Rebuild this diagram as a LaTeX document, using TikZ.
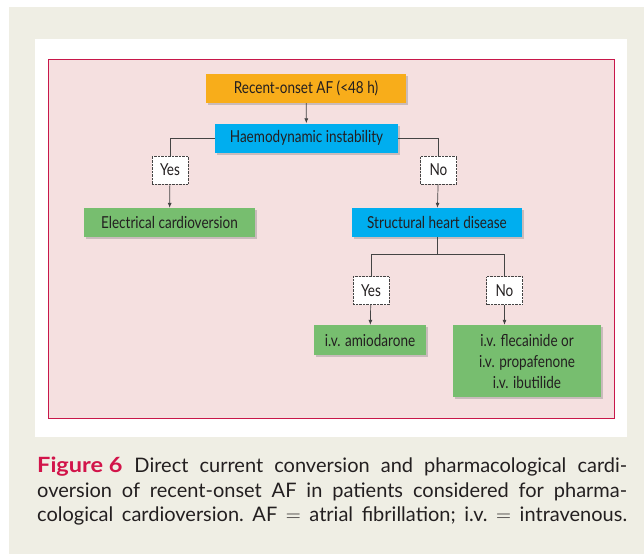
\documentclass[tikz,border=0pt]{standalone}
\usepackage{fontspec}
\setmainfont{Lato}
\newfontfamily\boitefont[FakeStretch=0.82]{Lato}
\usetikzlibrary{arrows.meta,shadows}

\definecolor{fond}{HTML}{EFEEE4}
\definecolor{rose}{HTML}{F5E0E0}
\definecolor{bordrose}{HTML}{C8174A}
\definecolor{figrouge}{HTML}{D2144A}
\definecolor{jaune}{HTML}{F8AD1A}
\definecolor{bleu}{HTML}{00AEEF}
\definecolor{vert}{HTML}{77BE6F}
\definecolor{texte}{HTML}{231F20}
\definecolor{trait}{HTML}{444444}

\tikzset{
	boite/.style={minimum height=29pt, inner sep=2pt, text=texte,
		font=\boitefont\fontsize{16.5}{21}\selectfont,
		drop shadow={shadow xshift=2pt, shadow yshift=-2pt, opacity=.3, fill=black!60}},
	boitejaune/.style={boite, fill=jaune},
	boitebleue/.style={boite, fill=bleu},
	boiteverte/.style={boite, fill=vert},
	choix/.style={draw=trait, densely dotted, fill=white, minimum width=36pt,
		minimum height=28pt, inner sep=2pt, text=texte,
		font=\boitefont\fontsize{16.5}{18}\selectfont},
	lien/.style={draw=trait, line width=0.7pt},
	fleche/.style={lien, -{Latex[length=5pt,width=4pt]}}
}

\begin{document}
\begin{tikzpicture}[x=1pt,y=-1pt]

\useasboundingbox (0,0) rectangle (644,554);

% cadres
\fill[fond] (9,7) rectangle (644,554);
\fill[white] (35,39) rectangle (627,437);
\filldraw[fill=rose, draw=bordrose, line width=0.8pt] (48,59) rectangle (614,418);

% boites
\node[boitejaune, minimum width=200pt] (debut) at (306,88.5) {Recent-onset AF (<48 h)};
\node[boitebleue, minimum width=183pt] (instab) at (306.5,138) {Haemodynamic instability};
\node[choix] (oui1) at (170,170) {Yes};
\node[choix] (non1) at (438.5,170) {No};
\node[boiteverte, minimum width=171pt] (choc) at (169.5,222.5) {Electrical cardioversion};
\node[boitebleue, minimum width=170pt] (cardio) at (437,222.5) {Structural heart disease};
\node[choix] (oui2) at (371,290.5) {Yes};
\node[choix] (non2) at (504.5,290.5) {No};
\node[boiteverte, minimum width=112pt, minimum height=30pt] (amio) at (370,340) {i.v. amiodarone};
\node[boiteverte, minimum width=148pt, minimum height=72pt, align=center] (flec) at (527,361)
	{i.v. flecainide or\\i.v. propafenone\\i.v. ibutilide};

\coordinate (jonction) at (437,254);

% liens
\draw[fleche] (debut) -- (instab);
\draw[lien] (instab.west) -| (oui1.north);
\draw[lien] (instab.east) -| (non1.north);
\draw[fleche] (oui1) -- (choc);
\draw[fleche] (non1) -- (cardio);
\draw[lien] (cardio.south) -- (jonction);
\draw[lien] (jonction) -| (oui2.north);
\draw[lien] (jonction) -| (non2.north);
\draw[fleche] (oui2) -- (amio);
\draw[fleche] (non2) -- (non2 |- flec.north);

% legende
\node[anchor=north west, text width=590pt, align=justify, inner sep=0pt, text=texte,
	font=\fontsize{20}{24.5}\selectfont\frenchspacing] (legende) at (37,457)
	{\mbox{\textcolor{figrouge}{\fontsize{21}{24.5}\selectfont\bfseries\addfontfeatures{FakeStretch=1.12}Figure 6}}\hspace{0.6em}Direct current conversion and pharmacological cardi-\linebreak
	oversion of recent-onset AF in patients considered for pharma-\linebreak
	\makebox[590pt][s]{cological cardioversion. AF $=$ atrial fibrillation; i.v. $=$ intravenous.}};

\end{tikzpicture}
\end{document}
